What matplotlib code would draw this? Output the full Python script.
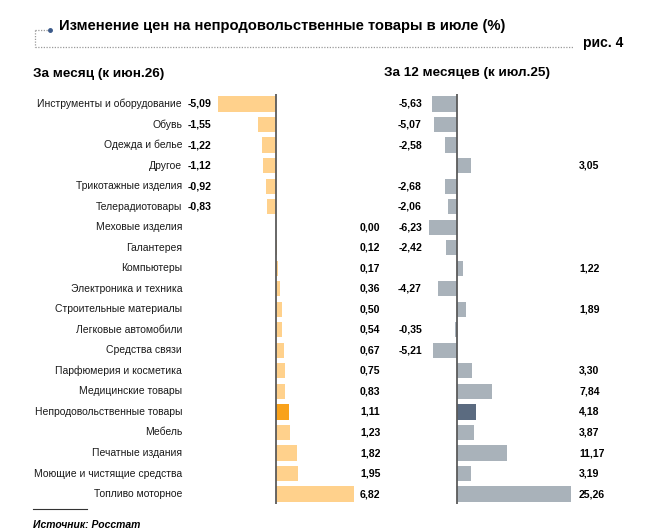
import matplotlib
matplotlib.use("Agg")
import matplotlib.pyplot as plt
from matplotlib.lines import Line2D
from matplotlib.transforms import blended_transform_factory

plt.rcParams["font.family"] = ["Liberation Sans", "DejaVu Sans"]

categories = [
    "Инструменты и оборудование", "Обувь", "Одежда и белье", "Другое",
    "Трикотажные изделия", "Телерадиотовары", "Меховые изделия", "Галантерея",
    "Компьютеры", "Электроника и техника", "Строительные материалы",
    "Легковые автомобили", "Средства связи", "Парфюмерия и косметика",
    "Медицинские товары", "Непродовольственные товары", "Мебель",
    "Печатные издания", "Моющие и чистящие средства", "Топливо моторное",
]
month_values = [-5.09, -1.55, -1.22, -1.12, -0.92, -0.83, 0.00, 0.12, 0.17, 0.36,
                0.50, 0.54, 0.67, 0.75, 0.83, 1.11, 1.23, 1.82, 1.95, 6.82]
year_values = [-5.63, -5.07, -2.58, 3.05, -2.68, -2.06, -6.23, -2.42, 1.22, -4.27,
               1.89, -0.35, -5.21, 3.30, 7.84, 4.18, 3.87, 11.17, 3.19, 25.26]
highlight = "Непродовольственные товары"

title = "Изменение цен на непродовольственные товары в июле (%)"
fig_label = "рис. 4"
left_title = "За месяц (к июн.26)"
right_title = "За 12 месяцев (к июл.25)"
source = "Источник: Росстат"

W, H = 656, 531
fig = plt.figure(figsize=(W / 100, H / 100), dpi=100)


def fx(x):
    return x / W


def fy(y):
    return 1 - y / H


def fmt(v):
    return f"{v:.2f}".replace(".", ",")


row0, step = 104, 20.53
top = row0 - step / 2
bottom = row0 + step * (len(categories) - 0.5)


def panel(x0, x1, zero_px, scale, values, color, hl_color, neg_x, pos_x):
    ax = fig.add_axes([fx(x0), fy(bottom), fx(x1 - x0), (bottom - top) / H])
    ax.set_xlim((x0 - zero_px) / scale, (x1 - zero_px) / scale)
    ax.set_ylim(len(categories) - 0.5, -0.5)
    ys = list(range(len(categories)))
    colors = [hl_color if c == highlight else color for c in categories]
    ax.barh(ys, values, height=0.74, color=colors, edgecolor="none")
    ax.axvline(0, color="#5a5a5a", lw=1.3)
    ax.axis("off")
    tr = blended_transform_factory(fig.transFigure, ax.transData)
    for y, v in zip(ys, values):
        if v < 0:
            ax.text(fx(neg_x), y, fmt(v), transform=tr, ha="right", va="center",
                    fontsize=7.6, fontweight="bold")
        else:
            ax.text(fx(pos_x), y, fmt(v), transform=tr, ha="left", va="center",
                    fontsize=7.6, fontweight="bold")
    return ax, tr


ax1, tr1 = panel(214, 362, 276, 11.4, month_values, "#FFD18C", "#F9A21B", 211, 360)
ax2, tr2 = panel(425, 578, 457, 4.52, year_values, "#A9B2BA", "#5B6B80", 422, 579)

for y, c in enumerate(categories):
    ax1.text(fx(182), y, c, transform=tr1, ha="right", va="center", fontsize=7.5,
             color="#1a1a1a")

# header
fig.text(fx(59), fy(26), title, fontsize=10.6, fontweight="bold", va="center")
fig.text(fx(583), fy(43), fig_label, fontsize=10, fontweight="bold", va="center")
dot = dict(color="#9a9a9a", lw=0.9, ls=(0, (1, 1.2)))
fig.add_artist(Line2D([fx(35), fx(48)], [fy(30), fy(30)], transform=fig.transFigure, **dot))
fig.add_artist(Line2D([fx(35), fx(35)], [fy(30), fy(47)], transform=fig.transFigure, **dot))
fig.add_artist(Line2D([fx(35), fx(574)], [fy(47), fy(47)], transform=fig.transFigure, **dot))
fig.add_artist(Line2D([fx(50)], [fy(30)], transform=fig.transFigure, marker="o",
                      markersize=2.5, color="#3b5a8a", lw=0))

fig.text(fx(33), fy(74), left_title, fontsize=9.7, fontweight="bold", va="center")
fig.text(fx(384), fy(73), right_title, fontsize=9.7, fontweight="bold", va="center")

# footer
fig.add_artist(Line2D([fx(33), fx(87)], [fy(509), fy(509)], transform=fig.transFigure,
                      color="#333333", lw=0.8))
fig.text(fx(33), fy(525), source, fontsize=7.5, fontweight="bold", style="italic",
         va="center")

fig.savefig("out.png", dpi=100)
